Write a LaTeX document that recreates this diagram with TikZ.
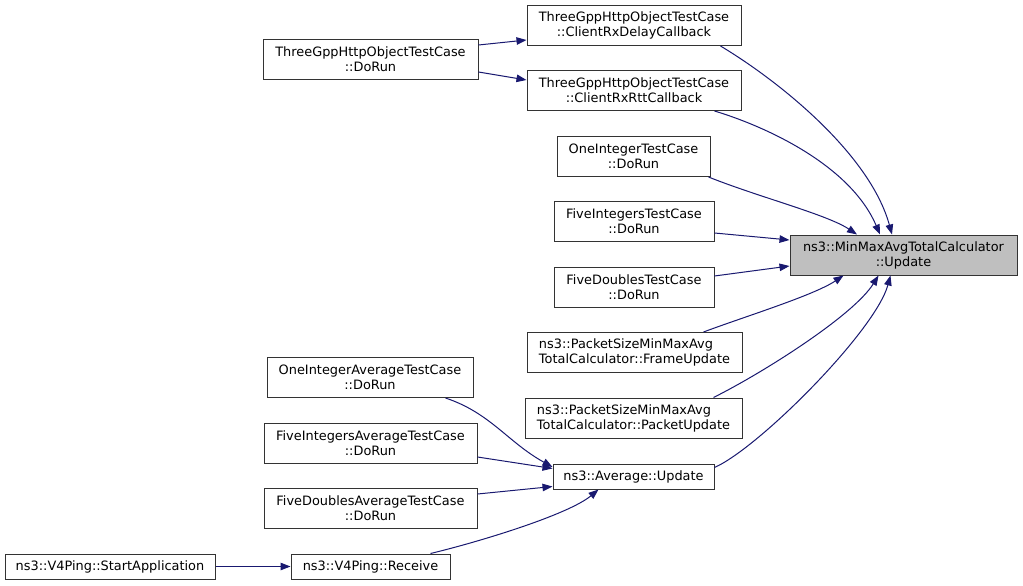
\documentclass[tikz,border=0pt]{standalone}
\usepackage{fontspec}
\setmainfont{DejaVu Sans}
\usetikzlibrary{arrows.meta,calc}
\definecolor{edgeblue}{HTML}{191970}
\definecolor{boxgray}{HTML}{BFBFBF}
\begin{document}
\begin{tikzpicture}[x=1pt,y=-1pt,
  box/.style={draw=black!80,line width=1pt,fill=white,inner sep=0pt,align=center,
    font=\fontsize{12.9}{15}\selectfont},
  two/.style={minimum height=40pt},
  one/.style={minimum height=25pt},
  edge/.style={draw=edgeblue,line width=1pt,-{Triangle[length=10pt,width=7.5pt]}}]
\fill[white] (0,0) rectangle (1023,586);
\useasboundingbox (0,0) rectangle (1023,586);
\node[box,two,fill=boxgray,minimum width=227pt] (target) at (903.5,255) {ns3::MinMaxAvgTotalCalculator\\::Update};
\node[box,two,minimum width=214pt] (delay) at (634,25.5) {ThreeGppHttpObjectTestCase\\::ClientRxDelayCallback};
\node[box,two,minimum width=214pt] (rtt) at (634,90.5) {ThreeGppHttpObjectTestCase\\::ClientRxRttCallback};
\node[box,two,minimum width=215pt] (dorun3) at (370.5,59.5) {ThreeGppHttpObjectTestCase\\::DoRun};
\node[box,two,minimum width=153pt] (oneint) at (633.5,156.5) {OneIntegerTestCase\\::DoRun};
\node[box,two,minimum width=160pt] (fiveint) at (634,221.5) {FiveIntegersTestCase\\::DoRun};
\node[box,two,minimum width=160pt] (fivedbl) at (634,287) {FiveDoublesTestCase\\::DoRun};
\node[box,two,minimum width=215pt,align=left] (frame) at (634.5,352.5) {ns3::PacketSizeMinMaxAvg\\TotalCalculator::FrameUpdate};
\node[box,two,minimum width=217pt,align=left] (packet) at (633.5,418) {ns3::PacketSizeMinMaxAvg\\TotalCalculator::PacketUpdate};
\node[box,one,minimum width=161pt] (avg) at (633.5,476.5) {ns3::Average::Update};
\node[box,two,minimum width=206pt] (oneavg) at (370,377.5) {OneIntegerAverageTestCase\\::DoRun};
\node[box,two,minimum width=213pt] (fiveintavg) at (370.5,443) {FiveIntegersAverageTestCase\\::DoRun};
\node[box,two,minimum width=213pt] (fivedblavg) at (370.5,508) {FiveDoublesAverageTestCase\\::DoRun};
\node[box,one,minimum width=159pt] (receive) at (370.5,566.5) {ns3::V4Ping::Receive};
\node[box,one,minimum width=210pt] (start) at (110,566.5) {ns3::V4Ping::StartApplication};
% edges
\draw[edge] ($(dorun3.east)+(0,-14.5)$) -- ($(delay.west)+(0,14.5)$);
\draw[edge] ($(dorun3.east)+(0,12.5)$) -- ($(rtt.west)+(0,-10.5)$);
\draw[edge] ($(delay.south east)+(-21,0)$) .. controls +(60,36) and +(-22,-80) .. ($(target.north)+(-11.5,0)$);
\draw[edge] ($(rtt.south east)+(-27,0)$) .. controls +(50,15) and +(-30,-70) .. ($(target.north)+(-23.5,0)$);
\draw[edge] ($(oneint.south east)+(-2,0)$) .. controls +(50,20) and +(-30,-20) .. ($(target.north)+(-46.5,0)$);
\draw[edge] ($(fiveint.east)+(0,11.5)$) -- ($(target.west)+(0,-15)$);
\draw[edge] ($(fivedbl.east)+(0,-11)$) -- ($(target.west)+(0,11)$);
\draw[edge] ($(frame.north east)+(-39,0)$) .. controls +(40,-15) and +(-30,20) .. ($(target.south)+(-60,0)$);
\draw[edge] ($(packet.north east)+(-29,0)$) .. controls +(50,-25) and +(-25,40) .. ($(target.south)+(-25,0)$);
\draw[edge] ($(avg.east)+(0,-9)$) .. controls +(45,-20) and +(-15,55) .. ($(target.south)+(-13,0)$);
\draw[edge] ($(oneavg.south east)+(-28,0)$) .. controls +(45,15) and +(-45,-25) .. ($(avg.west)+(0,-9.5)$);
\draw[edge] ($(fiveintavg.east)+(0,14)$) -- ($(avg.west)+(0,-8)$);
\draw[edge] ($(fivedblavg.east)+(0,-14)$) -- ($(avg.west)+(0,10)$);
\draw[edge] ($(receive.north east)+(-20,0)$) .. controls +(50,-12) and +(-30,25) .. ($(avg.south)+(-35,0)$);
\draw[edge] (start.east) -- (receive.west);
\end{tikzpicture}
\end{document}
